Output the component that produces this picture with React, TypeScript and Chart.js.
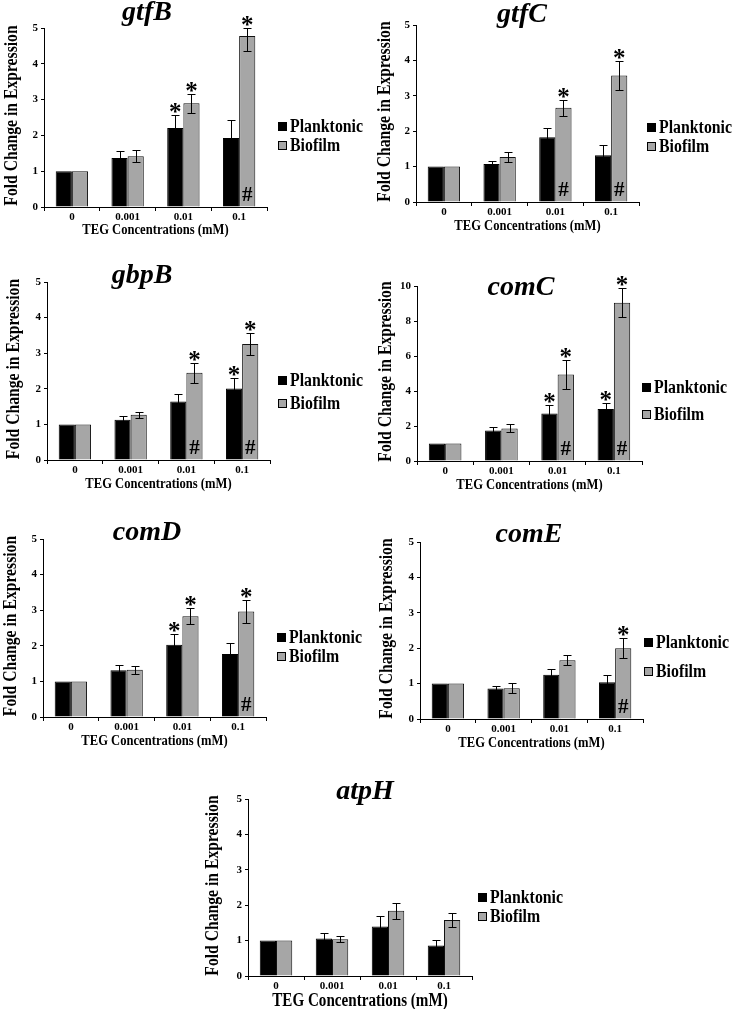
import React, { useEffect, useRef } from 'react';
import { Chart, registerables } from 'chart.js';

Chart.register(...registerables);

// ---------- data ----------
const categories = ['0', '0.001', '0.01', '0.1'];
const seriesNames = ['Planktonic', 'Biofilm'];
const yAxisTitle = 'Fold Change in Expression';
const xAxisTitle = 'TEG Concentrations (mM)';

const gtfBPlanktonic = [1, 1.37, 2.21, 1.93];
const gtfBPlanktonicErr = [0, 0.2, 0.35, 0.49];
const gtfBBiofilm = [1, 1.42, 2.9, 4.78];
const gtfBBiofilmErr = [0, 0.17, 0.27, 0.41];
const gtfBStarP = [0, 0, 1, 0];
const gtfBStarB = [0, 0, 1, 1];
const gtfBHash = [0, 0, 0, 1];

const gtfCPlanktonic = [1, 1.07, 1.83, 1.32];
const gtfCPlanktonicErr = [0, 0.1, 0.26, 0.28];
const gtfCBiofilm = [1, 1.27, 2.66, 3.57];
const gtfCBiofilmErr = [0, 0.13, 0.22, 0.42];
const gtfCStarP = [0, 0, 0, 0];
const gtfCStarB = [0, 0, 1, 1];
const gtfCHash = [0, 0, 1, 1];

const gbpBPlanktonic = [1, 1.13, 1.64, 2.01];
const gbpBPlanktonicErr = [0, 0.1, 0.21, 0.3];
const gbpBBiofilm = [1, 1.27, 2.45, 3.26];
const gbpBBiofilmErr = [0, 0.08, 0.28, 0.31];
const gbpBStarP = [0, 0, 0, 1];
const gbpBStarB = [0, 0, 1, 1];
const gbpBHash = [0, 0, 1, 1];

const comCPlanktonic = [1, 1.75, 2.72, 2.97];
const comCPlanktonicErr = [0, 0.2, 0.49, 0.32];
const comCBiofilm = [1, 1.86, 4.94, 9.05];
const comCBiofilmErr = [0, 0.23, 0.82, 0.85];
const comCStarP = [0, 0, 1, 1];
const comCStarB = [0, 0, 1, 1];
const comCHash = [0, 0, 1, 1];

const comDPlanktonic = [1, 1.31, 2.03, 1.77];
const comDPlanktonicErr = [0, 0.16, 0.3, 0.32];
const comDBiofilm = [1, 1.33, 2.83, 2.96];
const comDBiofilmErr = [0, 0.11, 0.23, 0.32];
const comDStarP = [0, 0, 1, 0];
const comDStarB = [0, 0, 1, 1];
const comDHash = [0, 0, 0, 1];

const comEPlanktonic = [1, 0.86, 1.25, 1.04];
const comEPlanktonicErr = [0, 0.08, 0.15, 0.19];
const comEBiofilm = [1, 0.87, 1.66, 2.0];
const comEBiofilmErr = [0, 0.14, 0.14, 0.28];
const comEStarP = [0, 0, 0, 0];
const comEStarB = [0, 0, 0, 1];
const comEHash = [0, 0, 0, 1];

const atpHPlanktonic = [1, 1.06, 1.4, 0.86];
const atpHPlanktonicErr = [0, 0.15, 0.29, 0.16];
const atpHBiofilm = [1, 1.04, 1.84, 1.58];
const atpHBiofilmErr = [0, 0.08, 0.22, 0.19];
const atpHStarP = [0, 0, 0, 0];
const atpHStarB = [0, 0, 0, 0];
const atpHHash = [0, 0, 0, 0];

// ---------- layout / style ----------
const FONT = '"Liberation Serif", "Times New Roman", serif';
const GREY = '#a6a6a6';

interface Panel {
  gene: string;
  p: number[]; pe: number[]; b: number[]; be: number[];
  sp: number[]; sb: number[]; hb: number[];
  yMax: number; yStep: number;
  box: [number, number, number, number];
  area: [number, number, number, number];
  titlePos: [number, number];
  yTitleX: number;
  legend: [number, number, number];
  xTitleDy: number; xTitleSize: number;
}

const panels: Panel[] = [
  { gene: 'gtfB', p: gtfBPlanktonic, pe: gtfBPlanktonicErr, b: gtfBBiofilm, be: gtfBBiofilmErr, sp: gtfBStarP, sb: gtfBStarB, hb: gtfBHash,
    yMax: 5, yStep: 1, box: [0, 0, 367, 240], area: [44, 267, 28, 207], titlePos: [147, 13], yTitleX: 12,
    legend: [278, 126, 145], xTitleDy: 23, xTitleSize: 15 },
  { gene: 'gtfC', p: gtfCPlanktonic, pe: gtfCPlanktonicErr, b: gtfCBiofilm, be: gtfCBiofilmErr, sp: gtfCStarP, sb: gtfCStarB, hb: gtfCHash,
    yMax: 5, yStep: 1, box: [367, 0, 367, 240], area: [416, 639, 25, 202], titlePos: [522, 15], yTitleX: 385,
    legend: [647, 127, 146], xTitleDy: 24, xTitleSize: 15 },
  { gene: 'gbpB', p: gbpBPlanktonic, pe: gbpBPlanktonicErr, b: gbpBBiofilm, be: gbpBBiofilmErr, sp: gbpBStarP, sb: gbpBStarB, hb: gbpBHash,
    yMax: 5, yStep: 1, box: [0, 240, 367, 254], area: [47, 270, 282, 460], titlePos: [142, 276], yTitleX: 14,
    legend: [278, 380, 403], xTitleDy: 24, xTitleSize: 15 },
  { gene: 'comC', p: comCPlanktonic, pe: comCPlanktonicErr, b: comCBiofilm, be: comCBiofilmErr, sp: comCStarP, sb: comCStarB, hb: comCHash,
    yMax: 10, yStep: 2, box: [367, 240, 367, 254], area: [417, 642, 286, 461], titlePos: [521, 288], yTitleX: 386,
    legend: [642, 387, 414], xTitleDy: 24, xTitleSize: 15 },
  { gene: 'comD', p: comDPlanktonic, pe: comDPlanktonicErr, b: comDBiofilm, be: comDBiofilmErr, sp: comDStarP, sb: comDStarB, hb: comDHash,
    yMax: 5, yStep: 1, box: [0, 494, 367, 261], area: [43, 266, 539, 717], titlePos: [147, 533], yTitleX: 11,
    legend: [277, 637, 656], xTitleDy: 24, xTitleSize: 15 },
  { gene: 'comE', p: comEPlanktonic, pe: comEPlanktonicErr, b: comEBiofilm, be: comEBiofilmErr, sp: comEStarP, sb: comEStarB, hb: comEHash,
    yMax: 5, yStep: 1, box: [367, 494, 367, 261], area: [420, 643, 542, 719], titlePos: [529, 535], yTitleX: 387,
    legend: [644, 642, 671], xTitleDy: 24, xTitleSize: 15 },
  { gene: 'atpH', p: atpHPlanktonic, pe: atpHPlanktonicErr, b: atpHBiofilm, be: atpHBiofilmErr, sp: atpHStarP, sb: atpHStarB, hb: atpHHash,
    yMax: 5, yStep: 1, box: [180, 755, 400, 254], area: [248, 472, 799, 976], titlePos: [365, 792], yTitleX: 213,
    legend: [478, 897, 916], xTitleDy: 25, xTitleSize: 18 },
];

// draw text squeezed in its own direction
function drawCondensed(ctx: CanvasRenderingContext2D, text: string, x: number, y: number, sx: number, rotate = false) {
  ctx.save();
  ctx.translate(x, y);
  if (rotate) ctx.rotate(-Math.PI / 2);
  ctx.scale(sx, 1);
  ctx.fillText(text, 0, 0);
  ctx.restore();
}

function PanelChart({ panel }: { panel: Panel }) {
  const ref = useRef<HTMLCanvasElement | null>(null);
  useEffect(() => {
    const canvas = ref.current;
    if (!canvas) return;
    const [bl, bt, bw, bh] = panel.box;
    const [x0, x1, yT, yB] = panel.area;

    const decor = {
      id: 'decor',
      afterDraw(chart: any) {
        const ctx = chart.ctx as CanvasRenderingContext2D;
        const ca = chart.chartArea;
        const ys = chart.scales.y;
        ctx.save();
        const sets = [
          { v: panel.p, e: panel.pe, s: panel.sp },
          { v: panel.b, e: panel.be, s: panel.sb },
        ];
        sets.forEach((set, di) => {
          const meta = chart.getDatasetMeta(di);
          meta.data.forEach((el: any, j: number) => {
            const v = set.v[j];
            const e = set.e[j];
            const x = Math.round(el.x) + 0.5;
            let top = ys.getPixelForValue(v);
            if (e > 0) {
              const hi = Math.round(Math.max(ca.top, ys.getPixelForValue(v + e))) + 0.5;
              const lo = Math.round(ys.getPixelForValue(v - e)) + 0.5;
              ctx.strokeStyle = '#000';
              ctx.lineWidth = 1;
              ctx.beginPath();
              ctx.moveTo(x, hi); ctx.lineTo(x, lo);
              ctx.moveTo(x - 4, hi); ctx.lineTo(x + 4, hi);
              ctx.moveTo(x - 4, lo); ctx.lineTo(x + 4, lo);
              ctx.stroke();
              top = hi;
            }
            ctx.fillStyle = '#000';
            if (set.s[j]) {
              ctx.font = `bold 25px ${FONT}`;
              ctx.textAlign = 'center';
              ctx.textBaseline = 'alphabetic';
              ctx.fillText('*', el.x, top + 4);
            }
            if (di === 1 && panel.hb[j]) {
              ctx.font = `bold 21px ${FONT}`;
              ctx.textAlign = 'center';
              ctx.textBaseline = 'alphabetic';
              ctx.fillText('#', el.x, ca.bottom - 6);
            }
          });
        });

        ctx.fillStyle = '#000';
        // title
        ctx.font = `italic bold 28px ${FONT}`;
        ctx.textAlign = 'center';
        ctx.textBaseline = 'middle';
        ctx.fillText(panel.gene, panel.titlePos[0] - bl, panel.titlePos[1] - bt);

        // y title
        ctx.font = `bold 18px ${FONT}`;
        ctx.textAlign = 'center';
        ctx.textBaseline = 'middle';
        drawCondensed(ctx, yAxisTitle, panel.yTitleX - bl, (ca.top + ca.bottom) / 2 - 2, 0.87, true);

        // x title
        ctx.font = `bold ${panel.xTitleSize}px ${FONT}`;
        ctx.textAlign = 'center';
        ctx.textBaseline = 'middle';
        drawCondensed(ctx, xAxisTitle, (ca.left + ca.right) / 2, ca.bottom + panel.xTitleDy, 0.84);

        // legend
        const [sx, ly1, ly2] = panel.legend;
        const fills = ['#000', GREY];
        [ly1, ly2].forEach((ly, i) => {
          const bx = sx - bl;
          const by = Math.round(ly - bt - 4.5);
          ctx.fillStyle = fills[i];
          ctx.fillRect(bx, by, 9, 9);
          ctx.strokeStyle = '#000';
          ctx.lineWidth = 1;
          ctx.strokeRect(bx + 0.5, by + 0.5, 8, 8);
          ctx.fillStyle = '#000';
          ctx.font = `bold 18px ${FONT}`;
          ctx.textAlign = 'left';
          ctx.textBaseline = 'middle';
          drawCondensed(ctx, seriesNames[i], bx + 12, ly - bt + 1, 0.88);
        });
        ctx.restore();
      },
    };

    const tickFont = { family: FONT, size: 11, weight: 'bold' as const };
    const chart = new Chart(canvas, {
      type: 'bar',
      data: {
        labels: categories,
        datasets: [
          { label: seriesNames[0], data: panel.p, backgroundColor: '#000', borderColor: '#000', borderWidth: 1, categoryPercentage: 0.58, barPercentage: 1 },
          { label: seriesNames[1], data: panel.b, backgroundColor: GREY, borderColor: '#111', borderWidth: 1, categoryPercentage: 0.58, barPercentage: 1 },
        ],
      },
      options: {
        responsive: false,
        animation: false,
        events: [],
        layout: { padding: { left: 0, top: yT - bt, right: bl + bw - x1, bottom: 0 } },
        plugins: { legend: { display: false }, title: { display: false }, tooltip: { enabled: false } },
        scales: {
          x: {
            grid: { display: true, drawOnChartArea: false, drawTicks: true, tickLength: 4, color: '#000', offset: true },
            border: { display: true, color: '#000', width: 1 },
            ticks: { color: '#000', font: tickFont, padding: 0, maxRotation: 0, autoSkip: false },
            afterFit: (s: any) => { s.height = bt + bh - yB; },
          },
          y: {
            min: 0,
            max: panel.yMax,
            grid: { display: true, drawOnChartArea: false, drawTicks: true, tickLength: 3, color: '#000' },
            border: { display: true, color: '#000', width: 1 },
            ticks: { stepSize: panel.yStep, color: '#000', font: tickFont, padding: 3 },
            afterFit: (s: any) => { s.width = x0 - bl; },
          },
        },
      } as any,
      plugins: [decor],
    });
    return () => chart.destroy();
  }, [panel]);

  const [bl, bt, bw, bh] = panel.box;
  return (
    <canvas
      ref={ref}
      width={bw}
      height={bh}
      style={{ position: 'absolute', left: bl, top: bt, width: bw, height: bh }}
    />
  );
}

export default function App() {
  return (
    <div style={{ position: 'absolute', left: 0, top: 0, width: 734, height: 1009, background: '#fff', overflow: 'hidden' }}>
      {panels.map((p) => (
        <PanelChart key={p.gene} panel={p} />
      ))}
    </div>
  );
}
